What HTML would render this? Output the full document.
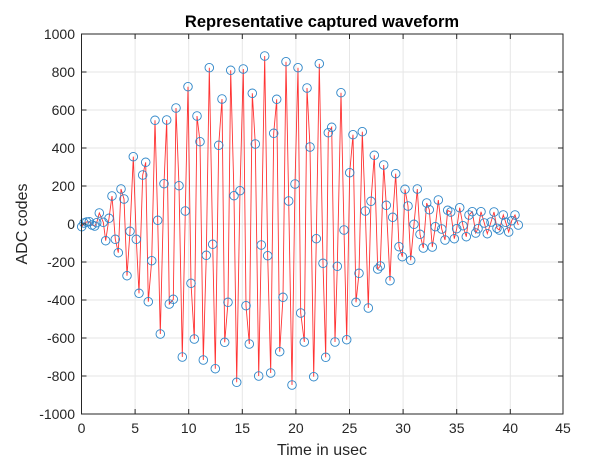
<!DOCTYPE html>
<html><head><style>
html,body{margin:0;padding:0;background:#fff;}
svg{display:block;font-family:"Liberation Sans",sans-serif;}
</style></head><body>
<svg width="600" height="471" viewBox="0 0 600 471" xmlns="http://www.w3.org/2000/svg">
<rect x="0" y="0" width="600" height="471" fill="#fff"/>
<g stroke="#e6e6e6" stroke-width="1">
<line x1="135.1" y1="34" x2="135.1" y2="414"/><line x1="188.7" y1="34" x2="188.7" y2="414"/>
<line x1="242.3" y1="34" x2="242.3" y2="414"/><line x1="295.9" y1="34" x2="295.9" y2="414"/>
<line x1="349.5" y1="34" x2="349.5" y2="414"/><line x1="403.1" y1="34" x2="403.1" y2="414"/>
<line x1="456.7" y1="34" x2="456.7" y2="414"/><line x1="510.3" y1="34" x2="510.3" y2="414"/>
<line x1="81.5" y1="72" x2="563" y2="72"/><line x1="81.5" y1="110" x2="563" y2="110"/>
<line x1="81.5" y1="148" x2="563" y2="148"/><line x1="81.5" y1="186" x2="563" y2="186"/>
<line x1="81.5" y1="224" x2="563" y2="224"/><line x1="81.5" y1="262" x2="563" y2="262"/>
<line x1="81.5" y1="300" x2="563" y2="300"/><line x1="81.5" y1="338" x2="563" y2="338"/>
<line x1="81.5" y1="376" x2="563" y2="376"/>
</g>
<g id="d">
<polyline fill="none" stroke="#ff0000" stroke-width="0.9" stroke-opacity="0.8" points="81.7,226.7 84,223 86.7,222 89.3,221.7 92,225 94.7,226 96.7,222.7 99.3,213 103.3,222.3 105.7,240.7 109,218.3 112,196 115.3,239.3 118.3,252.7 121,189 124,199 127,275.7 130,231.3 133.3,156.7 136.3,239.3 139,293.3 142.7,175 145.7,162.3 148.3,301.7 151.7,260.7 155,120.3 157.7,220.3 160.3,334 164,183.7 166.7,120 169.3,304 173.3,299.3 176,108 179,185.7 182.3,357 185.3,211 188,86.7 191,283.3 194.3,339 197,116 200,141.7 203.3,360 206.3,255.3 209.3,67.7 212.7,244.3 215.3,368.7 218.7,145.3 222,99 224.7,342.3 228,302.3 230.7,70.3 234,195.7 236.7,382.3 240,190.7 243.3,69 246,305.7 249.3,344 252.3,93.3 255.3,144 258.7,376 261.3,245 264.7,56 267.7,255.7 270.7,373 273.7,133.3 276.7,99.3 279.7,351.7 283,297.3 286,61.7 288.7,201 292,385 295,184 298,67.7 300.7,313 304.3,342 307,88 310,147 313.7,376.7 316.3,238.7 319.3,63.7 323,263.3 325.7,357.3 328.3,132.7 331.7,127.3 335,342 337.3,266.3 341,92.7 344,230 346.7,339.7 349.7,172.7 353,134.7 356,302.3 359,273.3 362.3,131.7 365.3,211 368.3,308 371,201.3 374.3,155.3 377.7,269 380.3,266 383.7,165 386.3,205.3 390,280.7 392.7,217.3 395.7,173.7 399,246.7 402.3,256.7 405,189.3 408,206 410.7,260.3 414,224.3 417.3,189 420,234.3 423.3,248 426.7,203 429.3,209.7 432.3,247 435.3,226.7 438.3,200 441.7,229 445,240 447.7,210.3 450.7,212 454.3,238.7 456.7,228.7 459.7,207.7 463,225.7 466.3,236.7 469,215 472.3,211.7 475.7,233 478,228.7 481,211.7 484.3,223 487.3,233.7 491,222 494,212 497,228.3 499.3,230 503.3,215 505.7,222.3 508.7,232 511.7,220.7 515,215 518.3,225"/>
</g>
<g id="m" fill="none" stroke="#2f86c8" stroke-width="0.9"></g>
<rect x="81.5" y="34" width="481.5" height="380" fill="none" stroke="#262626" stroke-width="1"/>
<g stroke="#262626" stroke-width="1">
<line x1="135.1" y1="414" x2="135.1" y2="409"/><line x1="188.7" y1="414" x2="188.7" y2="409"/><line x1="242.3" y1="414" x2="242.3" y2="409"/><line x1="295.9" y1="414" x2="295.9" y2="409"/><line x1="349.5" y1="414" x2="349.5" y2="409"/><line x1="403.1" y1="414" x2="403.1" y2="409"/><line x1="456.7" y1="414" x2="456.7" y2="409"/><line x1="510.3" y1="414" x2="510.3" y2="409"/>
<line x1="135.1" y1="34" x2="135.1" y2="39"/><line x1="188.7" y1="34" x2="188.7" y2="39"/><line x1="242.3" y1="34" x2="242.3" y2="39"/><line x1="295.9" y1="34" x2="295.9" y2="39"/><line x1="349.5" y1="34" x2="349.5" y2="39"/><line x1="403.1" y1="34" x2="403.1" y2="39"/><line x1="456.7" y1="34" x2="456.7" y2="39"/><line x1="510.3" y1="34" x2="510.3" y2="39"/>
<line x1="81.5" y1="72" x2="86.5" y2="72"/><line x1="81.5" y1="110" x2="86.5" y2="110"/><line x1="81.5" y1="148" x2="86.5" y2="148"/><line x1="81.5" y1="186" x2="86.5" y2="186"/><line x1="81.5" y1="224" x2="86.5" y2="224"/><line x1="81.5" y1="262" x2="86.5" y2="262"/><line x1="81.5" y1="300" x2="86.5" y2="300"/><line x1="81.5" y1="338" x2="86.5" y2="338"/><line x1="81.5" y1="376" x2="86.5" y2="376"/>
<line x1="563" y1="72" x2="558" y2="72"/><line x1="563" y1="110" x2="558" y2="110"/><line x1="563" y1="148" x2="558" y2="148"/><line x1="563" y1="186" x2="558" y2="186"/><line x1="563" y1="224" x2="558" y2="224"/><line x1="563" y1="262" x2="558" y2="262"/><line x1="563" y1="300" x2="558" y2="300"/><line x1="563" y1="338" x2="558" y2="338"/><line x1="563" y1="376" x2="558" y2="376"/>
</g>
<g font-size="14" fill="#262626" text-anchor="end">
<text x="75" y="39">1000</text><text x="75" y="77">800</text><text x="75" y="115">600</text><text x="75" y="153">400</text><text x="75" y="191">200</text><text x="75" y="229">0</text><text x="75" y="267">-200</text><text x="75" y="305">-400</text><text x="75" y="343">-600</text><text x="75" y="381">-800</text><text x="75" y="419">-1000</text>
</g>
<g font-size="14" fill="#262626" text-anchor="middle">
<text x="81.5" y="433">0</text><text x="135.1" y="433">5</text><text x="188.7" y="433">10</text><text x="242.3" y="433">15</text><text x="295.9" y="433">20</text><text x="349.5" y="433">25</text><text x="403.1" y="433">30</text><text x="456.7" y="433">35</text><text x="510.3" y="433">40</text><text x="563" y="433">45</text>
</g>
<text x="322" y="455" font-size="16" fill="#262626" text-anchor="middle">Time in usec</text>
<text x="27" y="224" font-size="16" fill="#262626" text-anchor="middle" transform="rotate(-90 27 224)">ADC codes</text>
<text x="322" y="27" font-size="16.5" font-weight="bold" fill="#000" text-anchor="middle">Representative captured waveform</text>
</svg>
<script>
(function(){
var p=document.querySelector('#d polyline').getAttribute('points').trim().split(/\s+/);
var g=document.getElementById('m'),ns='http://www.w3.org/2000/svg';
p.forEach(function(s){var a=s.split(',');var c=document.createElementNS(ns,'circle');c.setAttribute('cx',a[0]);c.setAttribute('cy',a[1]);c.setAttribute('r','4.3');g.appendChild(c);});
})();
</script>
</body></html>
